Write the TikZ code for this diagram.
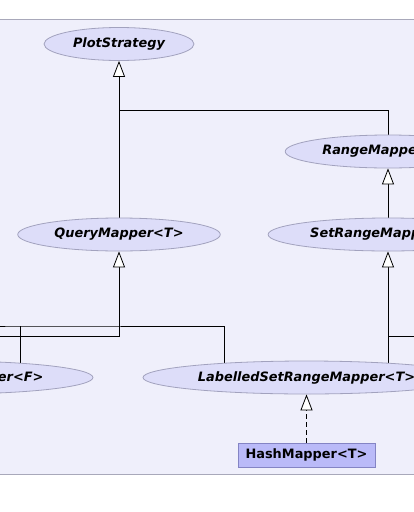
\documentclass[tikz,border=0pt]{standalone}
\usepackage{fontspec}
\setmainfont{DejaVu Sans}
\usetikzlibrary{shapes.geometric,arrows.meta}
\definecolor{sfondo}{RGB}{239,239,251}
\definecolor{bordosfondo}{RGB}{168,168,186}
\definecolor{riempiclasse}{RGB}{221,221,249}
\definecolor{bordoclasse}{RGB}{162,162,190}
\definecolor{riempiconcreta}{RGB}{186,186,248}
\definecolor{bordoconcreta}{RGB}{132,132,196}
\pgfdeclarelayer{sotto}
\pgfdeclarelayer{linee}
\pgfsetlayers{sotto,linee,main}
\tikzset{
  classe/.style={ellipse, draw=bordoclasse, fill=riempiclasse, line width=0.8pt,
    minimum height=33pt, inner xsep=7pt, inner ysep=1pt,
    font=\fontsize{12.9}{15}\selectfont\bfseries\itshape},
  concreta/.style={rectangle, draw=bordoconcreta, fill=riempiconcreta, line width=0.8pt,
    minimum height=24pt, inner xsep=7.5pt, inner ysep=1pt,
    font=\fontsize{12.9}{15}\selectfont\bfseries},
  eredita/.style={-{Triangle[length=16pt,width=12pt,fill=white]}, line width=0.8pt},
}
\begin{document}
\begin{tikzpicture}[x=1pt,y=-1pt]
  \useasboundingbox (0,0) rectangle (414,512);
  %classi
  \node[classe] (plot) at (119,44) {PlotStrategy};
  \node[classe] (query) at (119,234.5) {QueryMapper<T>};
  \node[classe] (range) at (388,151.5) {RangeMapper<T>};
  \node[classe] (setrange) at (388,234.5) {SetRangeMapper<T>};
  \node[classe] (labelled) at (306.5,377.5) {LabelledSetRangeMapper<T>};
  \node[classe] (lquery) at (-52,377.5) {LabelledQueryMapper<F>};
  \node[concreta] (hash) at (306.5,455) {HashMapper<T>};
  \coordinate (giunzione) at (119,110);
  \coordinate (destra) at (424,336);
  \coordinate (sinistra) at (-10,336);
  \coordinate (gomito) at (224,326);
  \coordinate (nodo) at (20,326);
  \begin{pgfonlayer}{sotto}
    \draw[draw=bordosfondo, fill=sfondo, line width=0.8pt] (-10,19.5) rectangle (424,474);
  \end{pgfonlayer}
  \begin{pgfonlayer}{linee}
    %ereditarieta
    \draw[eredita] (query.north) -- (plot.south);
    \draw[line width=0.8pt] (range.north) |- (giunzione);
    \draw[eredita] (setrange.north) -- (range.south);
    \draw[eredita] (labelled.center -| setrange.south) -- (setrange.south);
    \draw[line width=0.8pt] (destra) -- (destra -| setrange.south);
    \draw[eredita] (sinistra) -| (query.south);
    \draw[line width=0.8pt] (labelled.center -| gomito) |- (nodo) -- (nodo -| -10,0);
    \draw[line width=0.8pt] (lquery.center -| nodo) -- (nodo);
    %realizzazione
    \draw[eredita, dash pattern=on 5pt off 3pt] (hash.north) -- (labelled.south);
  \end{pgfonlayer}
\end{tikzpicture}
\end{document}
